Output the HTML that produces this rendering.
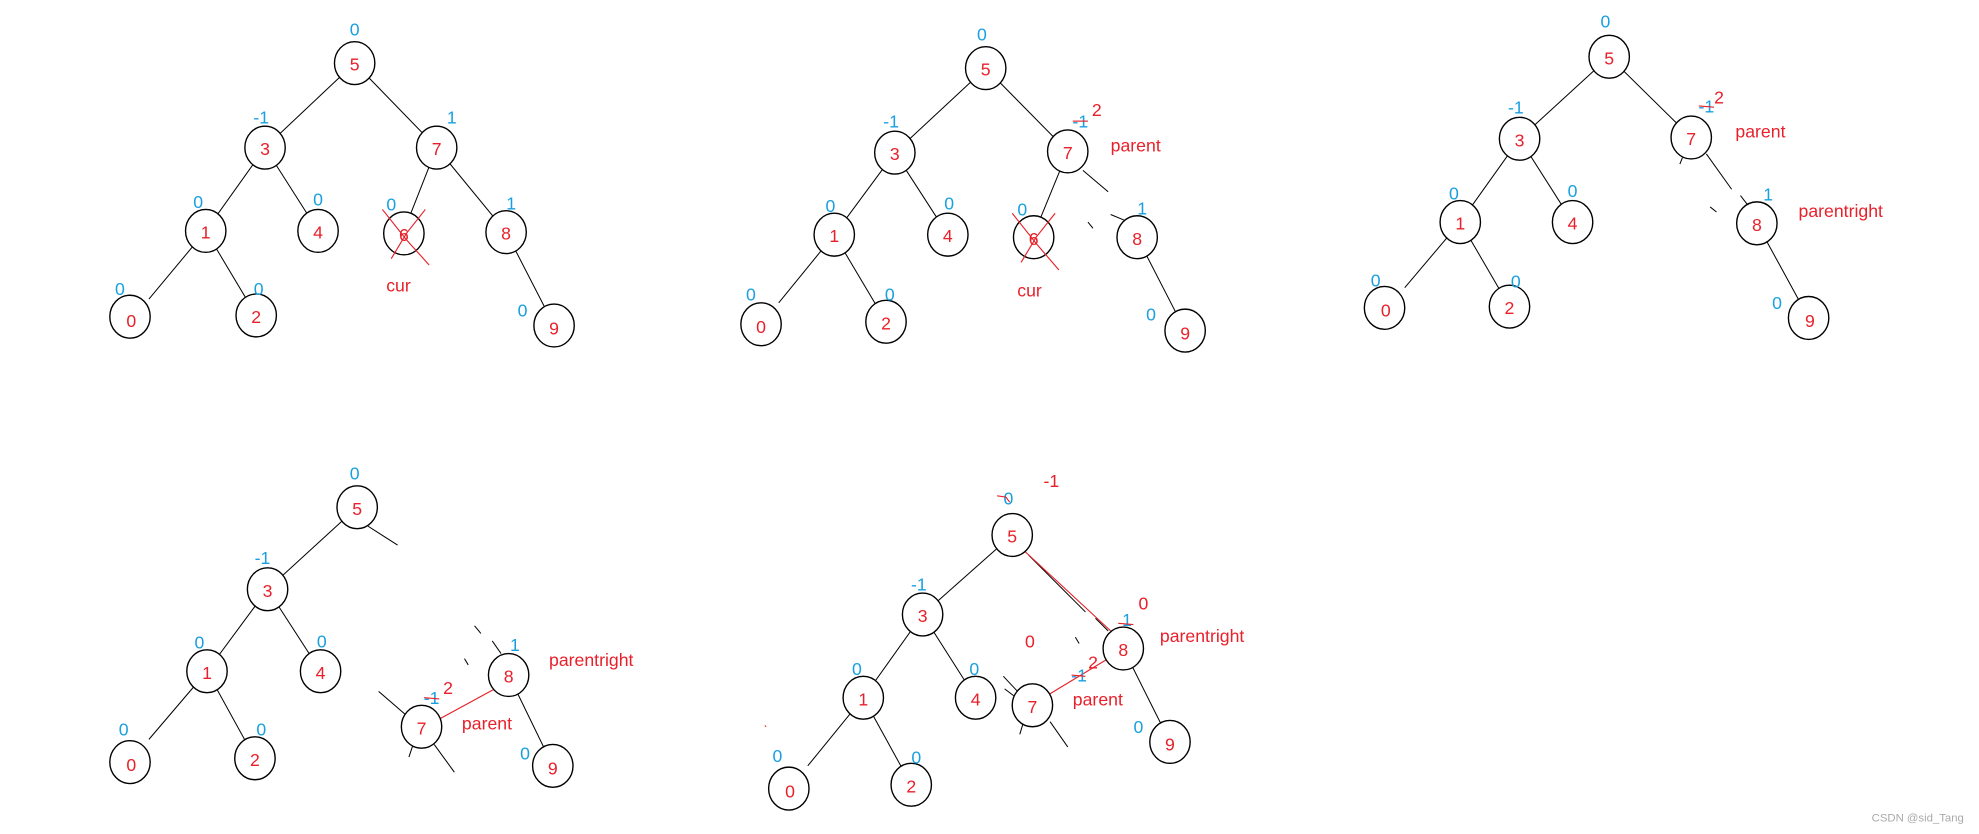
<!DOCTYPE html>
<html><head><meta charset="utf-8"><style>
html,body{margin:0;padding:0;background:#fff;width:1979px;height:834px;overflow:hidden}
svg{display:block}
.n{fill:#fff;stroke:#000;stroke-width:1.1}
.e{stroke:#000;stroke-width:0.8;fill:none}
.r{stroke:#e8202a;stroke-width:0.9;fill:none}
text{font-family:"Liberation Sans",sans-serif;font-size:14px}
.v{fill:#e8202a;text-anchor:middle}
.b{fill:#1aa0e0;text-anchor:middle}
.t{fill:#e8202a}
</style></head><body>
<svg width="1979" height="834" viewBox="0 0 1568 661" preserveAspectRatio="none">
<!-- Tree 1 -->
<g>
<line class="e" x1="281" y1="50" x2="210" y2="117"/><line class="e" x1="281" y1="50" x2="346" y2="117"/>
<line class="e" x1="210" y1="117" x2="163" y2="183"/><line class="e" x1="210" y1="117" x2="252" y2="183"/>
<line class="e" x1="346" y1="117" x2="320" y2="183"/><line class="e" x1="346" y1="117" x2="401" y2="184"/>
<line class="e" x1="163" y1="183" x2="118" y2="237"/><line class="e" x1="163" y1="183" x2="203" y2="250"/>
<line class="e" x1="401" y1="184" x2="439" y2="258"/>
<ellipse class="n" cx="281" cy="50" rx="16" ry="17"/><ellipse class="n" cx="210" cy="117" rx="16" ry="17"/>
<ellipse class="n" cx="346" cy="117" rx="16" ry="17"/><ellipse class="n" cx="163" cy="183" rx="16" ry="17"/>
<ellipse class="n" cx="252" cy="183" rx="16" ry="17"/><ellipse class="n" cx="320" cy="185" rx="16" ry="17"/>
<ellipse class="n" cx="401" cy="184" rx="16" ry="17"/><ellipse class="n" cx="103" cy="251" rx="16" ry="17"/>
<ellipse class="n" cx="203" cy="250" rx="16" ry="17"/><ellipse class="n" cx="439" cy="258" rx="16" ry="17"/>
<text class="v" x="281" y="56">5</text><text class="v" x="210" y="123">3</text><text class="v" x="346" y="123">7</text>
<text class="v" x="163" y="189">1</text><text class="v" x="252" y="189">4</text><text class="v" x="320" y="191">6</text>
<text class="v" x="401" y="190">8</text><text class="v" x="104" y="259">0</text><text class="v" x="203" y="256">2</text><text class="v" x="439" y="265">9</text>
<path class="r" d="M303 166 L322 190 L340 210 M337 166 L322 185 L310 205"/>
<text class="b" x="281" y="28">0</text><text class="b" x="207" y="98">-1</text><text class="b" x="358" y="98">1</text>
<text class="b" x="157" y="165">0</text><text class="b" x="252" y="163">0</text><text class="b" x="310" y="167">0</text>
<text class="b" x="405" y="166">1</text><text class="b" x="95" y="234">0</text><text class="b" x="205" y="234">0</text><text class="b" x="414" y="251">0</text>
<text class="t" x="306" y="231">cur</text>
</g>
<!-- Tree 2 -->
<g>
<line class="e" x1="781" y1="54" x2="709" y2="121"/><line class="e" x1="781" y1="54" x2="846" y2="120"/>
<line class="e" x1="709" y1="121" x2="661" y2="186"/><line class="e" x1="709" y1="121" x2="751" y2="186"/>
<line class="e" x1="846" y1="120" x2="819" y2="186"/><line class="e" x1="858" y1="135" x2="878" y2="152"/>
<line class="e" x1="862" y1="176" x2="866" y2="181"/><line class="e" x1="880" y1="170" x2="892" y2="175"/>
<line class="e" x1="661" y1="186" x2="617" y2="240"/><line class="e" x1="661" y1="186" x2="702" y2="255"/>
<line class="e" x1="901" y1="188" x2="939" y2="262"/>
<ellipse class="n" cx="781" cy="54" rx="16" ry="17"/><ellipse class="n" cx="709" cy="121" rx="16" ry="17"/>
<ellipse class="n" cx="846" cy="120" rx="16" ry="17"/><ellipse class="n" cx="661" cy="186" rx="16" ry="17"/>
<ellipse class="n" cx="751" cy="186" rx="16" ry="17"/><ellipse class="n" cx="819" cy="188" rx="16" ry="17"/>
<ellipse class="n" cx="901" cy="188" rx="16" ry="17"/><ellipse class="n" cx="603" cy="257" rx="16" ry="17"/>
<ellipse class="n" cx="702" cy="255" rx="16" ry="17"/><ellipse class="n" cx="939" cy="262" rx="16" ry="17"/>
<text class="v" x="781" y="60">5</text><text class="v" x="709" y="127">3</text><text class="v" x="846" y="126">7</text>
<text class="v" x="661" y="192">1</text><text class="v" x="751" y="192">4</text><text class="v" x="819" y="194">6</text>
<text class="v" x="901" y="194">8</text><text class="v" x="603" y="264">0</text><text class="v" x="702" y="261">2</text><text class="v" x="939" y="269">9</text>
<path class="r" d="M802 169 L821 193 L839 214 M836 169 L821 188 L809 208"/>
<text class="b" x="778" y="32">0</text><text class="b" x="706" y="101">-1</text><text class="b" x="856" y="101">-1</text>
<path class="r" d="M850 96 L862 96"/><text class="v" x="869" y="92">2</text><text class="t" x="880" y="120">parent</text>
<text class="b" x="658" y="168">0</text><text class="b" x="752" y="166">0</text><text class="b" x="810" y="171">0</text>
<text class="b" x="905" y="170">1</text><text class="b" x="595" y="238">0</text><text class="b" x="705" y="238">0</text><text class="b" x="912" y="254">0</text>
<text class="t" x="806" y="235">cur</text>
</g>
<!-- Tree 3 -->
<g>
<line class="e" x1="1275" y1="45" x2="1204" y2="110"/><line class="e" x1="1275" y1="45" x2="1340" y2="109"/>
<line class="e" x1="1204" y1="110" x2="1157" y2="176"/><line class="e" x1="1204" y1="110" x2="1246" y2="176"/>
<line class="e" x1="1352" y1="122" x2="1372" y2="150"/><line class="e" x1="1379" y1="155" x2="1389" y2="168"/>
<line class="e" x1="1333" y1="125" x2="1331" y2="130"/><line class="e" x1="1355" y1="164" x2="1360" y2="168"/>
<line class="e" x1="1157" y1="176" x2="1113" y2="228"/><line class="e" x1="1157" y1="176" x2="1196" y2="243"/>
<line class="e" x1="1392" y1="177" x2="1433" y2="252"/>
<ellipse class="n" cx="1275" cy="45" rx="16" ry="17"/><ellipse class="n" cx="1204" cy="110" rx="16" ry="17"/>
<ellipse class="n" cx="1340" cy="109" rx="16" ry="17"/><ellipse class="n" cx="1157" cy="176" rx="16" ry="17"/>
<ellipse class="n" cx="1246" cy="176" rx="16" ry="17"/><ellipse class="n" cx="1392" cy="177" rx="16" ry="17"/>
<ellipse class="n" cx="1097" cy="244" rx="16" ry="17"/><ellipse class="n" cx="1196" cy="243" rx="16" ry="17"/>
<ellipse class="n" cx="1433" cy="252" rx="16" ry="17"/>
<text class="v" x="1275" y="51">5</text><text class="v" x="1204" y="116">3</text><text class="v" x="1340" y="115">7</text>
<text class="v" x="1157" y="182">1</text><text class="v" x="1246" y="182">4</text><text class="v" x="1392" y="183">8</text>
<text class="v" x="1098" y="251">0</text><text class="v" x="1196" y="249">2</text><text class="v" x="1434" y="259">9</text>
<text class="b" x="1272" y="22">0</text><text class="b" x="1201" y="90">-1</text><text class="b" x="1352" y="89">-1</text>
<path class="r" d="M1346 84 L1358 85"/><text class="v" x="1362" y="82">2</text><text class="t" x="1375" y="109">parent</text>
<text class="b" x="1152" y="158">0</text><text class="b" x="1246" y="156">0</text><text class="b" x="1401" y="159">1</text>
<text class="t" x="1425" y="172">parentright</text>
<text class="b" x="1090" y="227">0</text><text class="b" x="1201" y="228">0</text><text class="b" x="1408" y="245">0</text>
</g>
<!-- Tree 4 -->
<g>
<line class="e" x1="283" y1="402" x2="212" y2="467"/><line class="e" x1="290" y1="416" x2="315" y2="432"/>
<line class="e" x1="212" y1="467" x2="164" y2="532"/><line class="e" x1="212" y1="467" x2="254" y2="532"/>
<line class="e" x1="164" y1="532" x2="118" y2="586"/><line class="e" x1="164" y1="532" x2="202" y2="601"/>
<line class="e" x1="403" y1="535" x2="438" y2="607"/>
<line class="e" x1="376" y1="496" x2="381" y2="502"/><line class="e" x1="368" y1="522" x2="371" y2="527"/>
<line class="e" x1="390" y1="508" x2="397" y2="518"/>
<line class="e" x1="300" y1="548" x2="322" y2="567"/><line class="e" x1="344" y1="590" x2="360" y2="612"/>
<line class="e" x1="327" y1="591" x2="324" y2="600"/>
<line class="r" x1="348" y1="570" x2="392" y2="546"/>
<ellipse class="n" cx="283" cy="402" rx="16" ry="17"/><ellipse class="n" cx="212" cy="467" rx="16" ry="17"/>
<ellipse class="n" cx="164" cy="532" rx="16" ry="17"/><ellipse class="n" cx="254" cy="532" rx="16" ry="17"/>
<ellipse class="n" cx="103" cy="604" rx="16" ry="17"/><ellipse class="n" cx="202" cy="601" rx="16" ry="17"/>
<ellipse class="n" cx="403" cy="535" rx="16" ry="17"/><ellipse class="n" cx="334" cy="576" rx="16" ry="17"/>
<ellipse class="n" cx="438" cy="607" rx="16" ry="17"/>
<text class="v" x="283" y="408">5</text><text class="v" x="212" y="473">3</text><text class="v" x="164" y="538">1</text>
<text class="v" x="254" y="538">4</text><text class="v" x="104" y="611">0</text><text class="v" x="202" y="607">2</text>
<text class="v" x="403" y="541">8</text><text class="v" x="334" y="582">7</text><text class="v" x="438" y="614">9</text>
<text class="b" x="281" y="380">0</text><text class="b" x="208" y="447">-1</text><text class="b" x="158" y="514">0</text>
<text class="b" x="255" y="513">0</text><text class="b" x="408" y="516">1</text><text class="t" x="435" y="528">parentright</text>
<text class="b" x="342" y="558">-1</text><path class="r" d="M336 553 L348 554"/><text class="v" x="355" y="550">2</text>
<text class="t" x="366" y="578">parent</text>
<text class="b" x="98" y="583">0</text><text class="b" x="207" y="583">0</text><text class="b" x="416" y="602">0</text>
</g>
<!-- Tree 5 -->
<g>
<line class="e" x1="802" y1="424" x2="731" y2="487"/>
<line class="e" x1="731" y1="487" x2="684" y2="553"/><line class="e" x1="731" y1="487" x2="773" y2="553"/>
<line class="e" x1="684" y1="553" x2="640" y2="607"/><line class="e" x1="684" y1="553" x2="722" y2="622"/>
<line class="e" x1="890" y1="514" x2="927" y2="588"/>
<line class="e" x1="815" y1="440" x2="860" y2="485"/><line class="e" x1="868" y1="490" x2="878" y2="500"/>
<line class="e" x1="852" y1="505" x2="855" y2="510"/>
<line class="e" x1="795" y1="536" x2="810" y2="552"/><line class="e" x1="796" y1="546" x2="804" y2="552"/>
<line class="e" x1="832" y1="572" x2="846" y2="592"/><line class="e" x1="811" y1="572" x2="808" y2="582"/>
<line class="r" x1="812" y1="437" x2="880" y2="500"/><line class="r" x1="830" y1="551" x2="878" y2="522"/>
<line class="r" x1="606" y1="575" x2="607" y2="576"/>
<ellipse class="n" cx="802" cy="424" rx="16" ry="17"/><ellipse class="n" cx="731" cy="487" rx="16" ry="17"/>
<ellipse class="n" cx="684" cy="553" rx="16" ry="17"/><ellipse class="n" cx="773" cy="553" rx="16" ry="17"/>
<ellipse class="n" cx="625" cy="625" rx="16" ry="17"/><ellipse class="n" cx="722" cy="622" rx="16" ry="17"/>
<ellipse class="n" cx="890" cy="514" rx="16" ry="17"/><ellipse class="n" cx="818" cy="559" rx="16" ry="17"/>
<ellipse class="n" cx="927" cy="588" rx="16" ry="17"/>
<text class="v" x="802" y="430">5</text><text class="v" x="731" y="493">3</text><text class="v" x="684" y="559">1</text>
<text class="v" x="773" y="559">4</text><text class="v" x="626" y="632">0</text><text class="v" x="722" y="628">2</text>
<text class="v" x="890" y="520">8</text><text class="v" x="818" y="565">7</text><text class="v" x="927" y="595">9</text>
<text class="b" x="799" y="400">0</text><path class="r" d="M790 393 L797 394 L800 398"/><text class="v" x="833" y="386">-1</text>
<text class="b" x="728" y="468">-1</text><text class="v" x="816" y="513">0</text>
<text class="b" x="893" y="496">1</text><path class="r" d="M886 494 L898 495"/><text class="v" x="906" y="483">0</text>
<text class="t" x="919" y="509">parentright</text>
<text class="b" x="855" y="540">-1</text><path class="r" d="M849 535 L860 536"/><text class="v" x="866" y="530">2</text>
<text class="t" x="850" y="559">parent</text>
<text class="b" x="679" y="535">0</text><text class="b" x="772" y="535">0</text><text class="b" x="616" y="604">0</text>
<text class="b" x="726" y="605">0</text><text class="b" x="902" y="581">0</text>
</g>
<text x="1556" y="651" text-anchor="end" style="font-size:9px;fill:#aaa">CSDN @sid_Tang</text>
</svg>
</body></html>
